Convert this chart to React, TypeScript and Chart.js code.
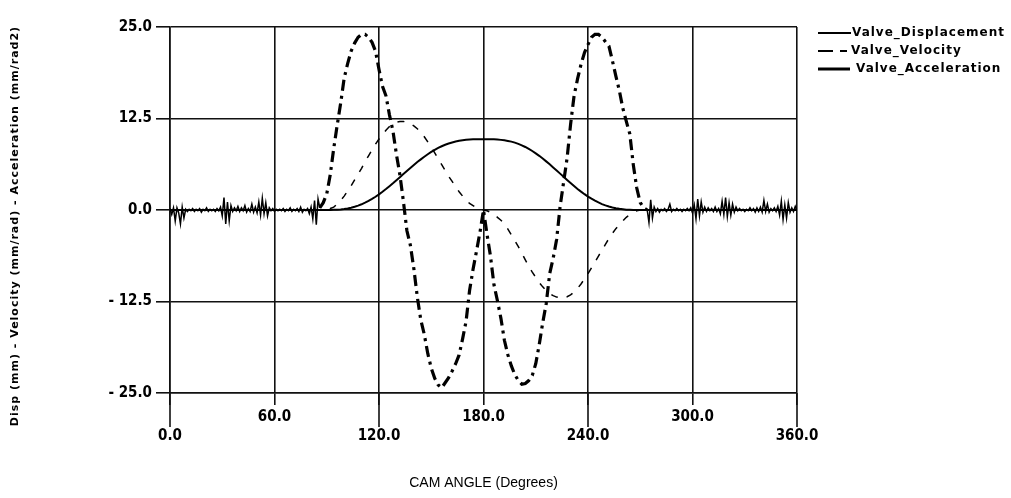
import React, { useEffect, useRef } from 'react';
import { Chart, registerables } from 'chart.js';

Chart.register(...registerables);

// Sampling grid helper for the cam-angle axis (degrees).
const range = (start: number, end: number, step: number): number[] => {
  const out: number[] = [];
  for (let a = start; a <= end + 1e-9; a += step) out.push(a);
  return out;
};

// ---- Cam angle grids -------------------------------------------------------
const dwellNoiseLeftAngles = range(0, 85, 1);
const accelLiftAngles = range(86, 274, 2);
const dwellNoiseRightAngles = range(275, 360, 1);
const liftAngles = range(88, 270, 2);
const dwellEnds = [0, 360];
const dwellValue = 0;

// ---- Valve acceleration (mm/rad^2) -----------------------------------------
const accelNoiseLeft = [
  0.2, -0.6, 0.3, -1.5, 0.3, -0.4, -1.9, 0.4, -1.1, 0.1,
  -0.2, 0.1, -0.1, 0.2, -0.2, 0.1, -0.1, 0.2, -0.3, 0.1,
  -0.1, 0.3, -0.2, 0.1, -0.1, 0.1, -0.2, 0.2, -0.1, 0.4,
  -0.8, 1.7, -1.9, 1.1, -1.5, 0.6, -0.2, 0.3, -0.1, 0.5,
  -0.2, 0.3, -0.1, 0.6, -0.3, 0.2, -0.2, 0.8, -0.3, 0.4,
  -0.4, 1.1, -0.7, 1.6, -0.5, 1.0, -0.8, 0.3, -0.1, 0.2,
  -0.2, 0.1, -0.1, 0.1, -0.1, 0.2, -0.2, 0.1, -0.1, 0.3,
  -0.2, 0.1, -0.1, 0.2, -0.2, 0.4, -0.3, 0.1, -0.1, 0.2,
  -0.5, 0.4, -1.2, 1.3, -2.0, 1.5,
];

const accelLift = [
  0.3, 1.0, 2.2, 4.8, 8.4, 11.6, 14.6, 18.0, 20.0, 21.7,
  22.8, 23.6, 24.0, 24.0, 23.6, 22.9, 21.7, 19.2, 16.9, 15.6,
  13.0, 10.8, 7.6, 4.8, 1.2, -2.8, -4.8, -8.0, -11.9, -15.0,
  -17.0, -19.6, -21.6, -23.0, -23.9, -24.3, -23.6, -22.9, -22.0, -21.0,
  -19.8, -17.6, -15.2, -11.0, -8.1, -5.6, -3.0, 0.0, -3.3, -6.3,
  -10.2, -12.4, -14.8, -17.8, -19.8, -21.3, -22.5, -23.3, -23.8, -23.7,
  -23.3, -22.6, -21.0, -18.4, -15.4, -12.8, -8.7, -6.6, -4.0, 0.5,
  3.8, 7.1, 11.7, 15.6, 17.9, 19.9, 21.5, 22.6, 23.6, 24.0,
  24.0, 23.6, 23.0, 22.4, 20.4, 18.3, 16.3, 13.9, 12.1, 10.4,
  6.2, 3.0, 1.0, 0.3, 0.0,
];

const accelNoiseRight = [
  -1.7, 1.4, -1.1, 0.4, -0.2, 0.2, -0.3, 0.1, -0.1, 0.2,
  -0.2, 0.1, 0.8, -0.2, 0.1, -0.1, 0.2, -0.1, 0.1, -0.2,
  0.1, -0.1, 0.2, -0.1, 0.3, -0.4, 0.7, -1.2, 1.5, -0.8,
  1.1, -0.3, 0.4, -0.2, 0.3, -0.1, 0.2, -0.2, 0.4, -0.2,
  0.2, -0.5, 1.2, -0.6, 1.7, -0.9, 1.0, -0.7, 0.8, -0.3,
  0.4, -0.1, 0.2, -0.1, 0.1, -0.2, 0.1, -0.1, 0.3, -0.1,
  0.2, -0.3, 0.3, -0.2, 0.4, -0.3, 1.3, -0.2, 0.8, -0.3,
  0.2, -0.1, 0.3, -0.2, 0.5, -0.7, 1.2, -1.3, 0.7, -1.1,
  1.0, -0.3, 0.3, -0.2, 0.5, -0.1,
];

// ---- Valve velocity (mm/rad), 88..270 deg ----------------------------------
const velocityLift = [
  0.0, 0.05, 0.2, 0.4, 0.8, 1.3, 1.9, 2.6, 3.3, 4.1,
  4.9, 5.7, 6.6, 7.4, 8.2, 9.0, 9.7, 10.3, 10.9, 11.4,
  11.8, 12.0, 12.1, 12.1, 12.0, 11.8, 11.5, 11.1, 10.6, 10.0,
  9.3, 8.6, 7.8, 7.0, 6.2, 5.4, 4.6, 3.9, 3.2, 2.5,
  1.9, 1.4, 0.9, 0.6, 0.3, 0.1, 0.0,
  -0.1, -0.3, -0.6, -1.0, -1.4, -1.9, -2.6, -3.4, -4.2, -5.0,
  -5.9, -6.8, -7.7, -8.5, -9.2, -9.9, -10.5, -11.0, -11.4, -11.7,
  -11.9, -12.0, -12.0, -11.85, -11.6, -11.2, -10.7, -10.1, -9.4, -8.7,
  -7.9, -7.1, -6.3, -5.5, -4.7, -3.9, -3.2, -2.55, -2.0, -1.5,
  -1.0, -0.6, -0.3, -0.1, 0.0,
];

// ---- Valve displacement (mm), 88..270 deg ----------------------------------
const displacementLift = [
  0.0, 0.0, 0.01, 0.02, 0.04, 0.07, 0.13, 0.21, 0.31, 0.44,
  0.6, 0.78, 1.0, 1.24, 1.51, 1.81, 2.14, 2.49, 2.86, 3.25,
  3.65, 4.07, 4.49, 4.91, 5.33, 5.74, 6.15, 6.55, 6.92, 7.28,
  7.62, 7.93, 8.22, 8.48, 8.71, 8.91, 9.08, 9.23, 9.35, 9.45,
  9.53, 9.59, 9.63, 9.65, 9.67, 9.68, 9.68,
  9.68, 9.67, 9.66, 9.63, 9.58, 9.52, 9.44, 9.34, 9.2, 9.03,
  8.84, 8.61, 8.35, 8.06, 7.74, 7.4, 7.03, 6.64, 6.24, 5.82,
  5.4, 4.97, 4.54, 4.11, 3.69, 3.28, 2.88, 2.51, 2.16, 1.83,
  1.54, 1.27, 1.03, 0.81, 0.63, 0.48, 0.35, 0.24, 0.16, 0.1,
  0.05, 0.03, 0.01, 0.0, 0.0,
];

// ---- Axis / label text -----------------------------------------------------
const seriesLabels = ['Valve_Displacement', 'Valve_Velocity', 'Valve_Acceleration'];
const xTitle = 'CAM ANGLE (Degrees)';
const yTitle = 'Disp (mm) - Velocity (mm/rad) - Acceleration (mm/rad2)';
const xMin = 0;
const xMax = 360;
const xStep = 60;
const yMin = -25;
const yMax = 25;
const yStep = 12.5;

const zip = (xs: number[], ys: number[]) => xs.map((x, i) => ({ x, y: ys[i] }));

const dwellPoint = (i: number) => ({ x: dwellEnds[i], y: dwellValue });

const TICK_FONT = "'DejaVu Sans Condensed', 'DejaVu Sans', sans-serif";
const PLOT_FONT = "'DejaVu Sans', sans-serif";

// Longer tick marks under the lower row of staggered x labels.
const longTicksPlugin = {
  id: 'longTicks',
  afterDraw(chart: any) {
    const { ctx, chartArea, scales } = chart;
    const xs = scales.x;
    ctx.save();
    ctx.strokeStyle = '#111';
    ctx.lineWidth = 1.6;
    xs.ticks.forEach((t: any, i: number) => {
      if (i % 2 !== 0) return;
      const px = xs.getPixelForValue(t.value);
      ctx.beginPath();
      ctx.moveTo(px, chartArea.bottom);
      ctx.lineTo(px, chartArea.bottom + 34);
      ctx.stroke();
    });
    ctx.restore();
  },
};

// Vertical axis title and the series key at the upper right.
const annotationPlugin = {
  id: 'plotAnnotations',
  afterDraw(chart: any) {
    const { ctx, chartArea } = chart;
    ctx.save();
    ctx.fillStyle = '#000';
    ctx.strokeStyle = '#000';

    // y-axis title
    ctx.save();
    ctx.translate(15, 226);
    ctx.rotate(-Math.PI / 2);
    ctx.font = `bold 11px ${PLOT_FONT}`;
    (ctx as any).letterSpacing = '1px';
    ctx.textAlign = 'center';
    ctx.textBaseline = 'middle';
    ctx.fillText(yTitle, 0, 0);
    ctx.restore();

    // key
    const x0 = chartArea.right + 21;
    const rows = [chartArea.top + 6, chartArea.top + 24, chartArea.top + 42];
    ctx.font = `bold 12px ${PLOT_FONT}`;
    (ctx as any).letterSpacing = '1px';
    ctx.textBaseline = 'middle';
    ctx.textAlign = 'left';
    const labels = chart.data.datasets.map((d: any) => d.label);

    ctx.lineWidth = 2;
    ctx.beginPath();
    ctx.moveTo(x0, rows[0]);
    ctx.lineTo(x0 + 33, rows[0]);
    ctx.stroke();
    ctx.fillText(labels[0], x0 + 34, rows[0]);

    ctx.beginPath();
    ctx.moveTo(x0, rows[1]);
    ctx.lineTo(x0 + 15, rows[1]);
    ctx.moveTo(x0 + 22, rows[1]);
    ctx.lineTo(x0 + 29, rows[1]);
    ctx.stroke();
    ctx.fillText(labels[1], x0 + 33, rows[1]);

    ctx.lineWidth = 3;
    ctx.beginPath();
    ctx.moveTo(x0, rows[2]);
    ctx.lineTo(x0 + 32, rows[2]);
    ctx.stroke();
    ctx.fillText(labels[2], x0 + 38, rows[2]);

    ctx.restore();
  },
};

const inDwell = (c: any) => c.p1.parsed.x <= 86 || c.p0.parsed.x >= 274;

export default function App() {
  const canvasRef = useRef<HTMLCanvasElement>(null);

  useEffect(() => {
    if (!canvasRef.current) return;

    const displacementData = [dwellPoint(0), ...zip(liftAngles, displacementLift), dwellPoint(1)];
    const velocityData = [dwellPoint(0), ...zip(liftAngles, velocityLift), dwellPoint(1)];
    const accelData = [
      ...zip(dwellNoiseLeftAngles, accelNoiseLeft),
      ...zip(accelLiftAngles, accelLift),
      ...zip(dwellNoiseRightAngles, accelNoiseRight),
    ];

    const chart = new Chart(canvasRef.current, {
      type: 'line',
      data: {
        datasets: [
          {
            label: seriesLabels[0],
            data: displacementData,
            borderColor: '#000',
            borderWidth: 2,
            pointRadius: 0,
            tension: 0,
          },
          {
            label: seriesLabels[1],
            data: velocityData,
            borderColor: '#000',
            borderWidth: 1.5,
            borderDash: [7, 9],
            pointRadius: 0,
            tension: 0,
          },
          {
            label: seriesLabels[2],
            data: accelData,
            borderColor: '#000',
            borderWidth: 3.2,
            borderDash: [11, 5, 3, 5],
            pointRadius: 0,
            tension: 0,
            segment: {
              borderDash: (c: any) => (inDwell(c) ? [] : undefined),
              borderWidth: (c: any) => (inDwell(c) ? 1.5 : undefined),
            },
          },
        ],
      },
      options: {
        animation: false,
        responsive: true,
        maintainAspectRatio: false,
        layout: { padding: { left: 0, right: 214, top: 27, bottom: 0 } },
        plugins: {
          legend: { display: false },
          tooltip: { enabled: false },
        },
        scales: {
          x: {
            type: 'linear',
            min: xMin,
            max: xMax,
            afterFit: (s: any) => {
              s.height = 105;
            },
            grid: {
              color: '#111',
              lineWidth: 1.6,
              drawTicks: true,
              tickLength: 12,
              tickColor: '#111',
            },
            border: { display: true, color: '#111', width: 1.6 },
            ticks: {
              stepSize: xStep,
              autoSkip: false,
              maxRotation: 0,
              minRotation: 0,
              padding: 3,
              color: '#000',
              font: { family: TICK_FONT, size: 15, weight: 'bold', lineHeight: 1.27 },
              callback: (v: any, i: number) => {
                const s = Number(v).toFixed(1);
                return i % 2 === 0 ? ['', s] : s;
              },
            },
            title: {
              display: true,
              text: xTitle,
              color: '#000',
              font: { family: "'Liberation Sans', Arial, sans-serif", size: 14 },
              padding: { top: 0, bottom: 6 },
            },
          },
          y: {
            type: 'linear',
            min: yMin,
            max: yMax,
            afterFit: (s: any) => {
              s.width = 170;
            },
            grid: {
              color: '#111',
              lineWidth: 1.6,
              drawTicks: true,
              tickLength: 14,
              tickColor: '#111',
            },
            border: { display: true, color: '#111', width: 1.6 },
            ticks: {
              stepSize: yStep,
              padding: 4,
              color: '#000',
              font: { family: TICK_FONT, size: 15, weight: 'bold' },
              callback: (v: any) => {
                const n = Number(v);
                return n < 0 ? '- ' + Math.abs(n).toFixed(1) : n.toFixed(1);
              },
            },
          },
        },
      },
      plugins: [longTicksPlugin, annotationPlugin],
    });

    return () => chart.destroy();
  }, []);

  return (
    <div
      style={{
        position: 'absolute',
        left: 0,
        top: 0,
        width: 1011,
        height: 498,
        background: '#fff',
      }}
    >
      <canvas ref={canvasRef} />
    </div>
  );
}
